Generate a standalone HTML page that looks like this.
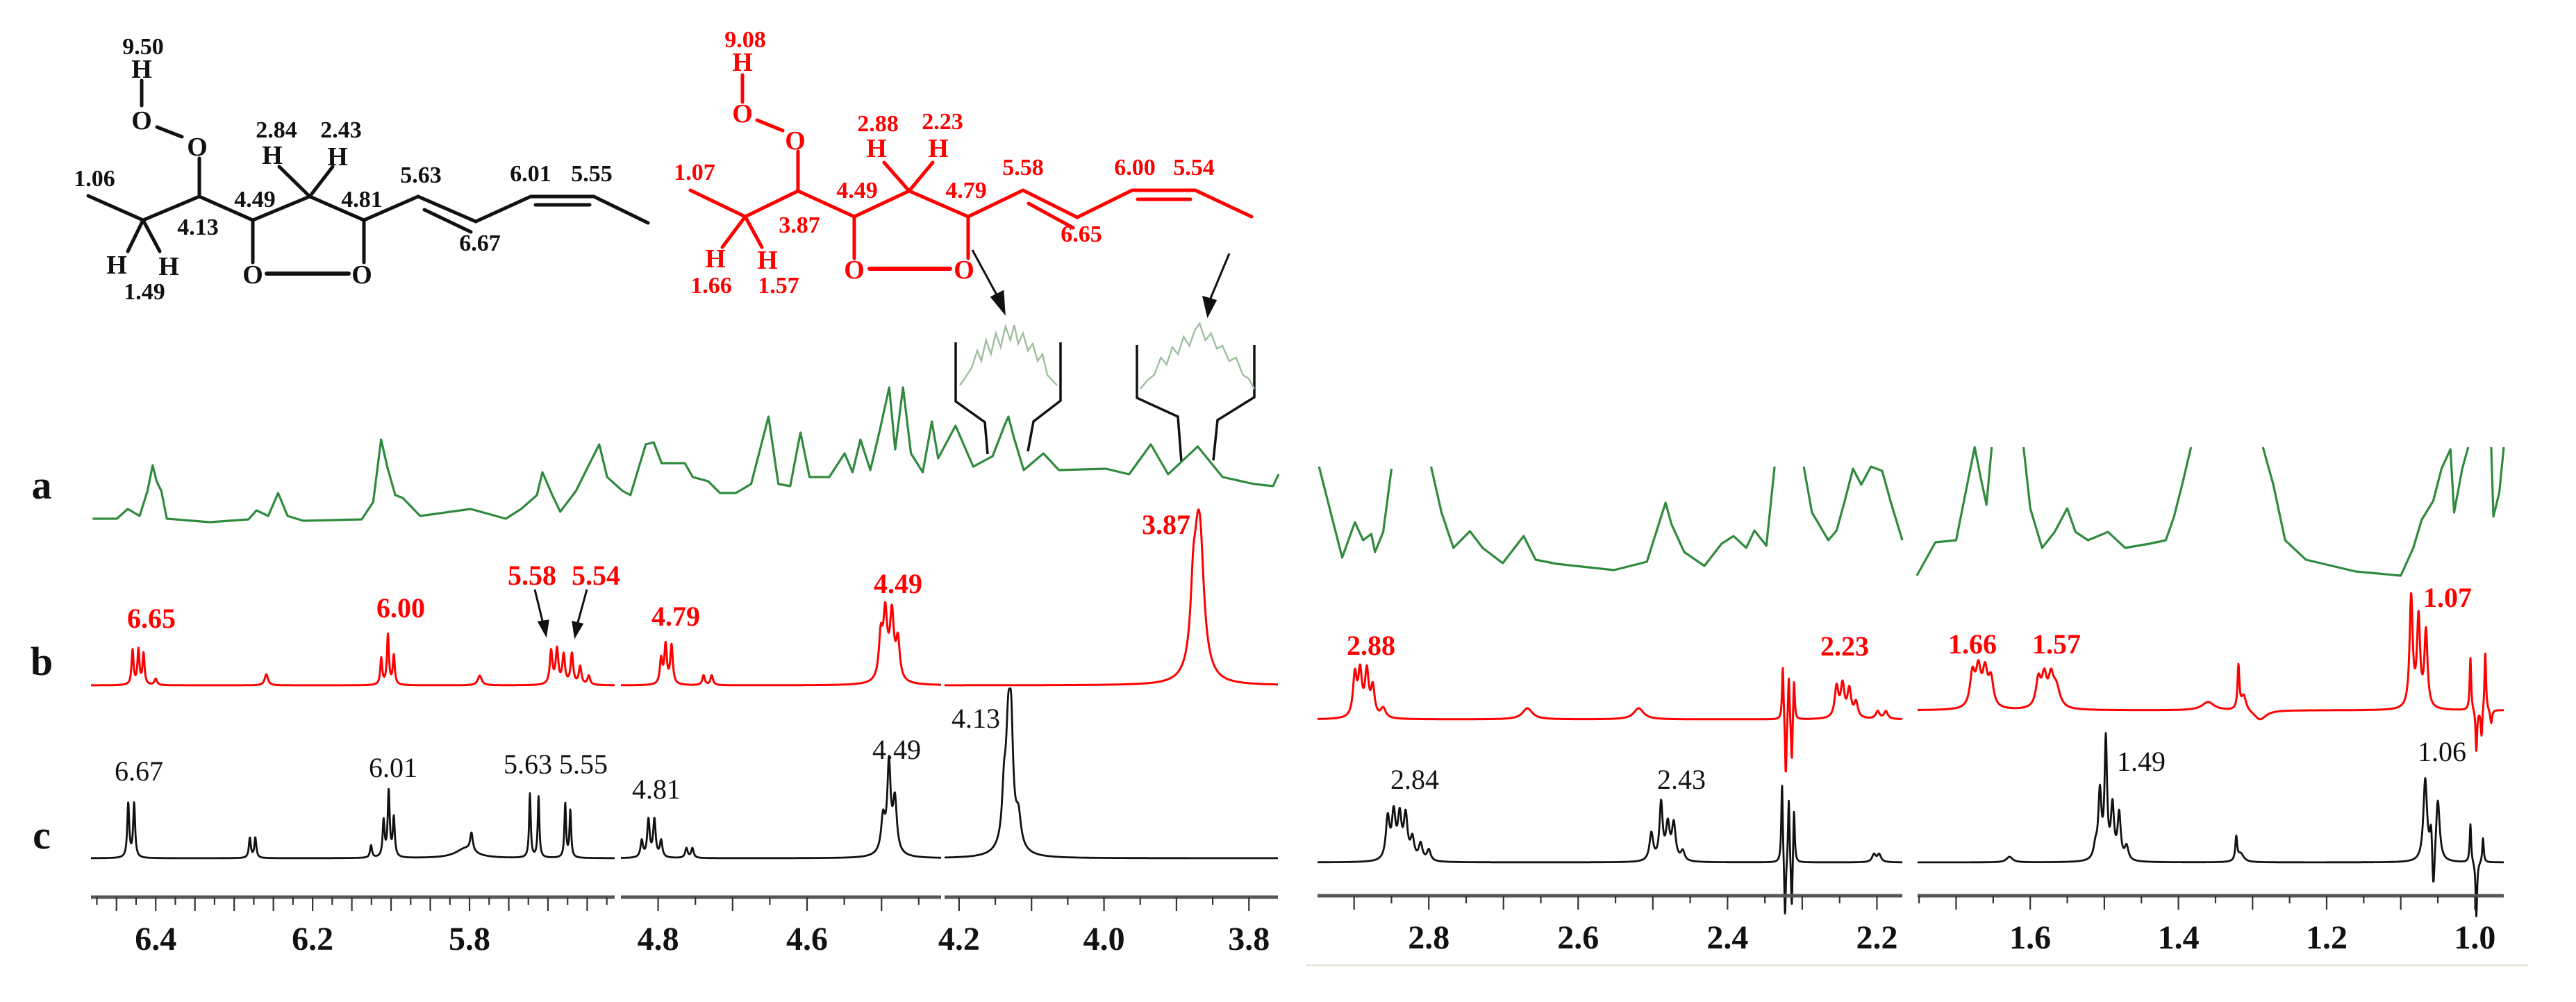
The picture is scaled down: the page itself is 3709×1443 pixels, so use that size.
<!DOCTYPE html>
<html><head><meta charset="utf-8">
<style>
html,body{margin:0;padding:0;background:#fff;}
svg{display:block;}
text{font-family:"Liberation Serif",serif;}
</style></head>
<body>
<svg id="fig" width="3709" height="1443" viewBox="0 0 3709 1443" xmlns="http://www.w3.org/2000/svg">
<rect width="3709" height="1443" fill="#fff"/>

<g stroke="#111" stroke-width="5" fill="none" stroke-linecap="round">
<polyline points="127,282 206,317 287,283 364,317 446,283 524,317 602,283 685,319 764,283 855,283 933,321"/>
<line x1="611" y1="302" x2="678" y2="334"/>
<line x1="771" y1="295" x2="849" y2="295"/>
<line x1="287" y1="283" x2="287" y2="228"/>
<line x1="262" y1="197" x2="226" y2="183"/>
<line x1="204" y1="152" x2="204" y2="116"/>
<line x1="364" y1="317" x2="364" y2="378"/>
<line x1="524" y1="317" x2="524" y2="378"/>
<line x1="384" y1="394" x2="502" y2="394" stroke-width="6"/>
<line x1="446" y1="283" x2="402" y2="240"/>
<line x1="446" y1="283" x2="479" y2="240"/>
<line x1="206" y1="317" x2="184" y2="362"/>
<line x1="206" y1="317" x2="230" y2="362"/>
</g>
<g fill="#111" font-size="34" font-weight="bold" text-anchor="middle">
<text x="206" y="78">9.50</text>
<text x="204" y="112" font-size="38">H</text>
<text x="204" y="186" font-size="38">O</text>
<text x="284" y="224" font-size="38">O</text>
<text x="392" y="236" font-size="38">H</text>
<text x="486" y="238" font-size="38">H</text>
<text x="398" y="198">2.84</text>
<text x="491" y="198">2.43</text>
<text x="136" y="268">1.06</text>
<text x="285" y="338">4.13</text>
<text x="367" y="298">4.49</text>
<text x="521" y="298">4.81</text>
<text x="606" y="263">5.63</text>
<text x="691" y="361">6.67</text>
<text x="764" y="261">6.01</text>
<text x="852" y="261">5.55</text>
<text x="168" y="394" font-size="38">H</text>
<text x="243" y="396" font-size="38">H</text>
<text x="208" y="431">1.49</text>
<text x="364" y="408" font-size="38">O</text>
<text x="521" y="408" font-size="38">O</text>
</g>

<g stroke="#ff0000" stroke-width="5" fill="none" stroke-linecap="round">
<polyline points="994,274 1073,312 1149,275 1230,312 1309,275 1394,312 1473,274 1551,313 1630,274 1721,274 1802,312"/>
<line x1="1481" y1="293" x2="1545" y2="328"/>
<line x1="1638" y1="287" x2="1714" y2="287"/>
<line x1="1149" y1="275" x2="1149" y2="218"/>
<line x1="1127" y1="188" x2="1090" y2="173"/>
<line x1="1069" y1="147" x2="1069" y2="108"/>
<line x1="1230" y1="312" x2="1230" y2="372"/>
<line x1="1394" y1="312" x2="1394" y2="372"/>
<line x1="1252" y1="387" x2="1368" y2="387" stroke-width="6"/>
<line x1="1309" y1="275" x2="1273" y2="234"/>
<line x1="1309" y1="275" x2="1343" y2="234"/>
<line x1="1073" y1="312" x2="1040" y2="356"/>
<line x1="1073" y1="312" x2="1097" y2="356"/>
</g>
<g fill="#ff0000" font-size="34" font-weight="bold" text-anchor="middle">
<text x="1073" y="68">9.08</text>
<text x="1069" y="102" font-size="38">H</text>
<text x="1069" y="176" font-size="38">O</text>
<text x="1145" y="215" font-size="38">O</text>
<text x="1262" y="226" font-size="38">H</text>
<text x="1351" y="226" font-size="38">H</text>
<text x="1264" y="189">2.88</text>
<text x="1357" y="186">2.23</text>
<text x="1000" y="259">1.07</text>
<text x="1151" y="335">3.87</text>
<text x="1234" y="285">4.49</text>
<text x="1391" y="285">4.79</text>
<text x="1473" y="252">5.58</text>
<text x="1557" y="348">6.65</text>
<text x="1634" y="252">6.00</text>
<text x="1719" y="252">5.54</text>
<text x="1030" y="385" font-size="38">H</text>
<text x="1105" y="387" font-size="38">H</text>
<text x="1024" y="422">1.66</text>
<text x="1121" y="422">1.57</text>
<text x="1230" y="401" font-size="38">O</text>
<text x="1388" y="401" font-size="38">O</text>
</g>

<g stroke="#111" stroke-width="3" fill="#111">
<line x1="1400" y1="360" x2="1438" y2="430"/>
<polygon points="1446,450 1428,428 1444,420"/>
<line x1="1770" y1="365" x2="1742" y2="432"/>
<polygon points="1739,454 1733,428 1750,433"/>
</g>

<g stroke="#111" stroke-width="3.5" fill="none">
<polyline points="1376,493 1376,578 1418,608 1422,654"/>
<polyline points="1527,493 1527,577 1488,607 1480,650"/>
<polyline points="1637,497 1637,573 1696,600 1701,665"/>
<polyline points="1806,497 1806,572 1753,605 1747,663"/>
</g>
<g id="insets"></g>

<g id="greenLayer"></g>
<g id="redLayer"></g>
<g id="blackLayer"></g>
<g id="axisLayer"></g>
<g id="labelLayer"></g>

<g font-size="58" font-weight="bold" fill="#111" text-anchor="middle">
<text x="60" y="718">a</text>
<text x="60" y="972">b</text>
<text x="60" y="1222">c</text>
</g>

<g stroke="#111" stroke-width="3" fill="#111">
<line x1="770" y1="849" x2="782" y2="898"/>
<polygon points="786,914 776,896 789,894"/>
<line x1="845" y1="849" x2="831" y2="900"/>
<polygon points="828,916 825,896 838,899"/>
</g>
<line x1="1880" y1="1390" x2="3640" y2="1390" stroke="#e6e6d8" stroke-width="3"/>
</svg>

<script>
const panelDomains = [[6.765,5.43],[4.85,4.42],[4.22,3.76],[2.949,2.166],[1.752,0.961]];
const panelRanges  = [[131,885],[894,1355],[1360,1840],[1897,2739],[2761,3605]];
const greenDomain = [6.76,3.755];
const greenRange = [134,1841];

const tickValsP1 = [6.6,6.2,5.8];   const tickLabsP1 = ["6.4","6.2","5.8"];
const tickValsP2 = [4.8,4.6];       const tickLabsP2 = ["4.8","4.6"];
const tickValsP3 = [4.2,4.0,3.8];   const tickLabsP3 = ["4.2","4.0","3.8"];
const tickValsP4 = [2.8,2.6,2.4,2.2]; const tickLabsP4 = ["2.8","2.6","2.4","2.2"];
const tickValsP5 = [1.6,1.4,1.2,1.0]; const tickLabsP5 = ["1.6","1.4","1.2","1.0"];

const redP1 = [[6.659,50,0.003],[6.644,50,0.003],[6.631,45,0.003],[6.60,9,0.004],[6.318,16,0.005],
 [6.025,38,0.003],[6.008,72,0.003],[5.993,42,0.003],[5.774,14,0.006],
 [5.592,48,0.004],[5.577,50,0.004],[5.560,42,0.004],[5.539,44,0.004],[5.518,26,0.004],[5.496,13,0.004]];
const redP2 = [[4.796,36,0.002],[4.790,56,0.002],[4.782,56,0.002],[4.739,14,0.002],[4.728,14,0.002],
 [4.501,60,0.003],[4.495,85,0.003],[4.486,85,0.003],[4.478,55,0.003],[4.49,16,0.010]];
const redP3 = [[3.877,70,0.004],[3.870,205,0.008],[3.866,50,0.005]];
const redP4 = [[2.899,60,0.003],[2.892,62,0.003],[2.883,64,0.003],[2.875,42,0.003],[2.861,14,0.004],
 [2.668,16,0.008],[2.519,16,0.008],
 [2.326,80,0.0012],[2.322,-90,0.0012],[2.318,68,0.0012],[2.314,-70,0.0012],[2.311,62,0.0012],
 [2.254,44,0.003],[2.246,46,0.003],[2.237,40,0.003],[2.228,22,0.003],[2.199,11,0.003],[2.188,11,0.003]];
const redP5 = [[1.678,48,0.004],[1.670,52,0.004],[1.661,50,0.004],[1.653,40,0.004],
 [1.589,40,0.004],[1.581,42,0.004],[1.572,38,0.004],[1.565,30,0.006],
 [1.36,12,0.01],[1.319,62,0.0015],[1.312,22,0.004],[1.29,-14,0.01],
 [1.086,160,0.0025],[1.076,128,0.0025],[1.066,110,0.0025],
 [1.006,76,0.0012],[0.998,-60,0.0012],[0.991,-40,0.0012],[0.986,86,0.0012],[0.978,-20,0.0015]];

const blackP1 = [[6.670,78,0.003],[6.655,78,0.003],[6.360,29,0.003],[6.346,29,0.003],
 [6.051,18,0.003],[6.019,52,0.003],[6.006,95,0.003],[5.993,56,0.003],
 [5.81,14,0.03],[5.795,26,0.004],[5.646,92,0.0025],[5.624,88,0.0025],[5.556,78,0.0025],[5.543,68,0.0025]];
const blackP2 = [[4.822,24,0.002],[4.813,54,0.002],[4.805,54,0.002],[4.796,24,0.002],[4.762,14,0.002],[4.754,14,0.002],
 [4.498,46,0.003],[4.490,115,0.0025],[4.482,72,0.003],[4.49,18,0.01]];
const blackP3 = [[4.138,60,0.003],[4.132,150,0.004],[4.128,120,0.003],[4.118,40,0.004],[4.13,30,0.012]];
const blackP4 = [[2.855,60,0.003],[2.847,64,0.003],[2.839,60,0.003],[2.831,62,0.003],[2.822,30,0.003],[2.811,24,0.003],[2.800,16,0.003],
 [2.502,40,0.003],[2.489,82,0.0025],[2.480,50,0.003],[2.472,52,0.003],[2.46,14,0.003],
 [2.327,118,0.0012],[2.323,-90,0.0012],[2.318,96,0.0012],[2.314,-80,0.0012],[2.311,82,0.0012],
 [2.204,11,0.003],[2.197,11,0.003]];
const blackP5 = [[1.628,8,0.005],[1.512,18,0.003],[1.506,96,0.0025],[1.498,170,0.002],[1.489,76,0.0025],[1.480,66,0.0025],[1.470,20,0.003],
 [1.322,34,0.0015],[1.316,12,0.005],
 [1.067,118,0.003],[1.056,-70,0.002],[1.059,50,0.002],[1.050,90,0.003],
 [1.006,56,0.0012],[0.998,-80,0.0012],[0.989,36,0.0012]];

const greenLeftPpm = [6.761,6.70,6.672,6.642,6.622,6.609,6.599,6.587,6.573,6.464,6.366,6.346,6.316,6.291,6.267,6.227,6.079,6.050,6.030,6.014,5.994,5.975,5.931,5.892,5.803,5.714,5.675,5.635,5.621,5.596,5.576,5.536,5.501,5.477,5.457,5.418,5.398,5.359,5.339,5.319,5.289,5.260,5.240,5.201,5.171,5.131,5.092,5.048,5.023,4.993,4.967,4.944,4.894,4.855,4.835,4.815,4.790,4.766,4.742,4.727,4.707,4.687,4.657,4.634,4.618,4.574,4.529,4.480,4.450,4.440,4.426,4.401,4.351,4.312,4.193,4.134,4.079,4.035,3.960,3.897,3.818,3.769,3.755];
const greenLeftInt = [13,13,27,17,53,90,67,53,13,8,12,25,17,50,17,10,12,37,127,87,47,43,17,20,27,13,27,47,80,47,23,53,93,120,73,53,47,120,123,93,93,93,73,67,50,50,63,160,63,60,137,73,73,107,80,127,83,140,202,113,202,107,80,153,100,147,88,103,147,160,130,83,107,83,85,77,120,77,117,73,63,60,77];

const greenSegAPpm = [2.947,2.916,2.899,2.888,2.877,2.872,2.861,2.850];
const greenSegAInt = [178,47,98,72,81,55,84,175];
const greenSegBPpm = [2.797,2.783,2.767,2.745,2.728,2.701,2.673,2.657,2.629,2.552,2.508,2.483,2.475,2.458,2.431,2.408,2.392,2.375,2.364,2.348,2.337];
const greenSegBInt = [178,112,61,85,61,39,78,44,38,29,41,126,95,55,35,67,78,61,86,64,178];
const greenSegCPpm = [2.298,2.287,2.265,2.254,2.243,2.232,2.221,2.208,2.193,2.182,2.166];
const greenSegCInt = [178,112,72,86,129,175,152,178,172,129,72];
const greenSegDPpm = [1.753,1.728,1.700,1.684,1.675,1.667,1.659,1.652];
const greenSegDInt = [21,69,72,158,206,163,123,206];
const greenSegEPpm = [1.609,1.600,1.584,1.567,1.550,1.539,1.522,1.495,1.472,1.439,1.417,1.406,1.395,1.383];
const greenSegEInt = [206,118,61,84,118,84,72,84,61,67,72,106,152,206];
const greenSegFPpm = [1.286,1.272,1.256,1.228,1.161,1.100,1.083,1.072,1.056,1.045,1.033,1.028,1.017,1.009];
const greenSegFInt = [206,152,72,44,27,21,61,101,129,175,203,112,175,206];
const greenSegGPpm = [0.978,0.975,0.967,0.961];
const greenSegGInt = [206,106,141,206];

const inset1Pos = [0,0.05,0.12,0.18,0.22,0.27,0.32,0.37,0.42,0.47,0.52,0.56,0.6,0.65,0.7,0.75,0.8,0.85,0.9,1];
const inset1Int = [0,10,25,50,35,65,45,75,55,85,65,87,60,75,50,60,35,45,15,0];
const inset2Pos = [0,0.06,0.12,0.18,0.23,0.28,0.33,0.38,0.43,0.48,0.52,0.57,0.62,0.67,0.72,0.78,0.84,0.9,0.95,1];
const inset2Int = [0,12,20,45,35,60,50,75,62,85,94,70,80,58,62,40,45,20,15,0];

const redLabelText = ["6.65","6.00","5.58","5.54","4.79","4.49","3.87","2.88","2.23","1.66","1.57","1.07"];
const blackLabelText = ["6.67","6.01","5.63","5.55","4.81","4.49","4.13","2.84","2.43","1.49","1.06"];

const NS = "http://www.w3.org/2000/svg";
function scale(d, r){ const f = v => r[0] + (d[0]-v)/(d[0]-d[1])*(r[1]-r[0]); f.inv = x => d[0] - (x-r[0])/(r[1]-r[0])*(d[0]-d[1]); return f; }
const P = panelDomains.map((d,i)=>scale(d,panelRanges[i]));
const G = scale(greenDomain, greenRange);

function mk(tag, attrs, parent){ const e=document.createElementNS(NS,tag); for(const k in attrs) e.setAttribute(k,attrs[k]); parent.appendChild(e); return e; }

function specPath(pi, peaks, baseL, baseR){
  const sc=P[pi], r=panelRanges[pi]; let d="";
  for(let x=r[0]; x<=r[1]; x+=0.5){
    const ppm=sc.inv(x); let s=0;
    for(const p of peaks){ const dx=ppm-p[0]; s+=p[1]*p[2]*p[2]/(dx*dx+p[2]*p[2]); }
    const base = baseL + (baseR-baseL)*(x-r[0])/(r[1]-r[0]);
    d += (d?"L":"M")+x.toFixed(1)+","+(base-s).toFixed(1);
  }
  return d;
}

const redLayer=document.getElementById('redLayer');
const blackLayer=document.getElementById('blackLayer');
const greenLayer=document.getElementById('greenLayer');
const axisLayer=document.getElementById('axisLayer');
const labelLayer=document.getElementById('labelLayer');

const redSets=[[0,redP1,987,987],[1,redP2,987,987],[2,redP3,987,987],[3,redP4,1036,1036],[4,redP5,1023,1023]];
const blackSets=[[0,blackP1,1236,1236],[1,blackP2,1236,1236],[2,blackP3,1236,1236],[3,blackP4,1242,1242],[4,blackP5,1242,1242]];
for(const s of redSets){
  const e=mk('path',{d:specPath(s[0],s[1],s[2],s[3]),fill:'none',stroke:'#ff0000','stroke-width':3,'stroke-linejoin':'round'},redLayer);
  
  
}
for(const s of blackSets){
  const e=mk('path',{d:specPath(s[0],s[1],s[2],s[3]),fill:'none',stroke:'#111','stroke-width':2.8,'stroke-linejoin':'round'},blackLayer);
  
  
}

function greenLine(sc, ppm, inten, base, name){
  const pts=ppm.map((p,i)=>sc(p).toFixed(1)+","+(base-inten[i]).toFixed(1)).join(" ");
  const e=mk('polyline',{points:pts,fill:'none',stroke:'#2f8a3c','stroke-width':3.2,'stroke-linejoin':'round'},greenLayer);
  
  
}
greenLine(G, greenLeftPpm, greenLeftInt, 760, 'green-trace-left');
greenLine(P[3], greenSegAPpm, greenSegAInt, 850, 'green-trace-seg-a');
greenLine(P[3], greenSegBPpm, greenSegBInt, 850, 'green-trace-seg-b');
greenLine(P[3], greenSegCPpm, greenSegCInt, 850, 'green-trace-seg-c');
greenLine(P[4], greenSegDPpm, greenSegDInt, 850, 'green-trace-seg-d');
greenLine(P[4], greenSegEPpm, greenSegEInt, 850, 'green-trace-seg-e');
greenLine(P[4], greenSegFPpm, greenSegFInt, 850, 'green-trace-seg-f');
greenLine(P[4], greenSegGPpm, greenSegGInt, 850, 'green-trace-seg-g');

const insets=document.getElementById('insets');
function insetLine(pos, inten, x0, x1, base, name){
  const pts=pos.map((p,i)=>(x0+p*(x1-x0)).toFixed(1)+","+(base-inten[i]).toFixed(1)).join(" ");
  const e=mk('polyline',{points:pts,fill:'none',stroke:'#9dbf9d','stroke-width':2.4},insets);
  
  
}
insetLine(inset1Pos, inset1Int, 1382, 1522, 555, 'inset-trace-1');
insetLine(inset2Pos, inset2Int, 1642, 1806, 560, 'inset-trace-2');

const tickSets=[[tickValsP1,tickLabsP1,0.05,1292],[tickValsP2,tickLabsP2,0.05,1292],[tickValsP3,tickLabsP3,0.05,1292],[tickValsP4,tickLabsP4,0.05,1290],[tickValsP5,tickLabsP5,0.05,1290]];
tickSets.forEach((t,i)=>{
  const r=panelRanges[i], d=panelDomains[i], y=t[3];
  const ln=mk('line',{x1:r[0],x2:r[1],y1:y,y2:y,stroke:'#555','stroke-width':5},axisLayer);
  
  
  const step=t[2];
  const start=Math.floor(d[0]/step)*step;
  for(let v=start; v>=d[1]-1e-9; v-=step){
    const x=P[i](v); if(x<r[0]-0.5||x>r[1]+0.5) continue;
    const major = t[0].some(tv=>Math.abs(tv-v)<1e-6) || Math.abs(Math.round(v*10)-v*10)<1e-6;
    mk('line',{x1:x,x2:x,y1:y,y2:y+(major?20:11),stroke:'#333','stroke-width':2.2},axisLayer);
  }
  t[0].forEach((v,k)=>{
    const x=P[i](v);
    const tx=mk('text',{x:x,y:y+76,'font-size':48,'font-weight':'bold','text-anchor':'middle',fill:'#111'},axisLayer);
    tx.textContent=t[1][k];
    
    
  });
});

const redLabelPos=[[218,904],[577,889],[766,842],[858,842],[973,901],[1293,854],[1679,769],[1974,943],[2656,944],[2840,941],[2961,941],[3524,874]];
const blackLabelPos=[[200,1124],[566,1119],[760,1114],[840,1114],[945,1150],[1291,1093],[1405,1048],[2037,1136],[2421,1136],[3083,1110],[3516,1096]];
redLabelText.forEach((t,i)=>{
  const e=mk('text',{x:redLabelPos[i][0],y:redLabelPos[i][1],'font-size':40,'font-weight':'bold','text-anchor':'middle',fill:'#ff0000'},labelLayer);
  e.textContent=t;
  
  
});
blackLabelText.forEach((t,i)=>{
  const e=mk('text',{x:blackLabelPos[i][0],y:blackLabelPos[i][1],'font-size':40,'text-anchor':'middle',fill:'#111'},labelLayer);
  e.textContent=t;
  
  
});
</script>
</body></html>
